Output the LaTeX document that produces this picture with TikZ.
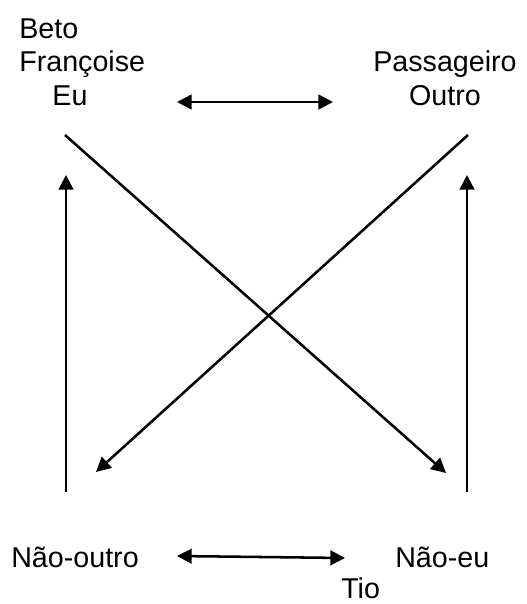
\documentclass[tikz,border=0pt]{standalone}
\usepackage{fontspec}
\setmainfont{Liberation Sans}
\usepackage{tikz}
\usetikzlibrary{arrows.meta,positioning,calc}

\begin{document}
\begin{tikzpicture}[
    x=0.75pt,y=-0.75pt,
    lbl/.style = {inner sep=0pt,font=\fontsize{21.5pt}{25pt}\selectfont},
    fl/.style  = {-{Triangle[length=11pt,width=11pt]},black,line width=1.9pt},
    fll/.style = {{Triangle[length=11pt,width=11pt]}-{Triangle[length=11pt,width=11pt]},black,line width=1.9pt},
  ]

  \useasboundingbox (0,0) rectangle (526,604);

  \node[lbl,anchor=base west] (beto)  at (19,38)  {Beto};
  \node[lbl,anchor=base west] (franc) at (19,71)  {Françoise};
  \node[lbl,anchor=base]      (eu)    at (70,105) {Eu};
  \node[lbl,anchor=base]      (pass)  at (445,71) {Passageiro};
  \node[lbl,anchor=base]      (outro) at (445,105){Outro};
  \node[lbl,anchor=base west] (naoout) at (11,567)  {Não-outro};
  \node[lbl,anchor=base west] (naoeu)  at (395,567) {Não-eu};
  \node[lbl,anchor=base west] (tio)    at (341,598) {Tio};

  \coordinate (topl) at (177,102);
  \coordinate (topr) at (333,102);
  \coordinate (botl) at (177,556);
  \coordinate (botr) at (345,558);
  \coordinate (lup)  at (66,175);
  \coordinate (llo)  at (66,492);
  \coordinate (rup)  at (467,175);
  \coordinate (rlo)  at (467,492);
  \coordinate (d1s)  at (65,135);
  \coordinate (d1e)  at (446,473);
  \coordinate (d2s)  at (468,135);
  \coordinate (d2e)  at (96,472);

  \draw[fll] (topl) -- (topr);
  \draw[fll] (botl) -- (botr);
  \draw[fl] (llo) -- (lup);
  \draw[fl] (rlo) -- (rup);
  \draw[fl] (d1s) -- (d1e);
  \draw[fl] (d2s) -- (d2e);

\end{tikzpicture}
\end{document}
